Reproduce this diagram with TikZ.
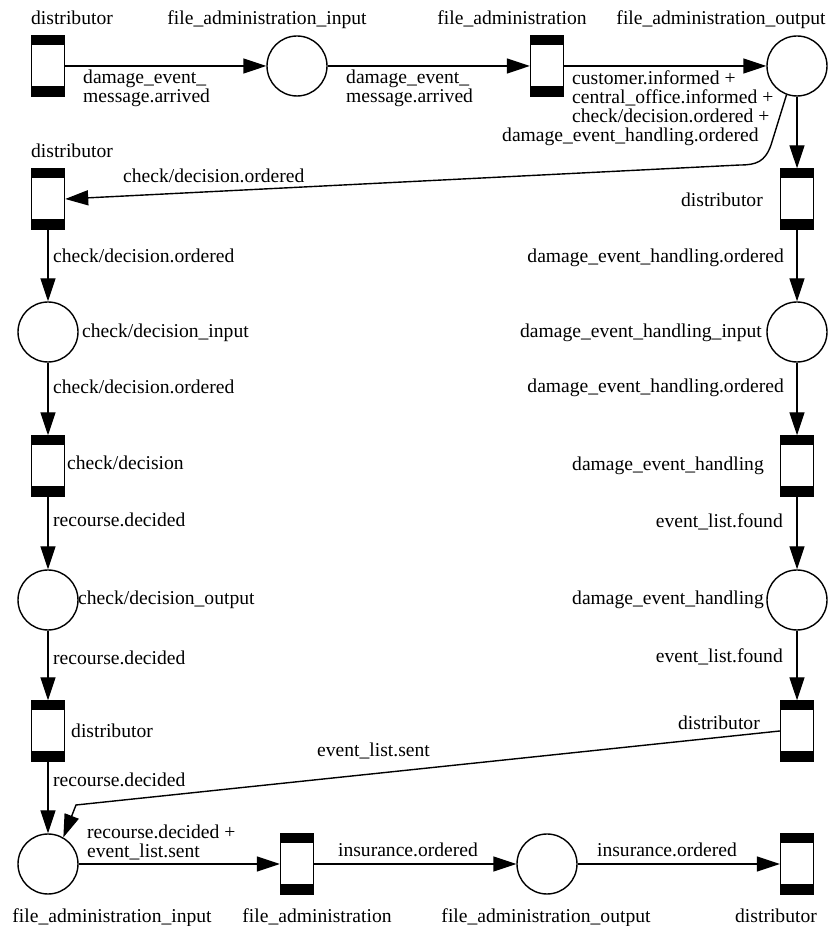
\documentclass[tikz,border=0pt]{standalone}
\usepackage{fontspec}
\setmainfont{Liberation Serif}
\usetikzlibrary{arrows.meta}
\begin{document}
\begin{tikzpicture}[x=1pt,y=1pt,
  every node/.style={font=\fontsize{19.6}{19}\selectfont},
  trans/.style={draw, line width=1.4pt, fill=white, minimum width=33pt, minimum height=60pt, inner sep=0pt,
    path picture={
      \fill[black] (path picture bounding box.north west) rectangle ([yshift=-9.5pt]path picture bounding box.north east);
      \fill[black] (path picture bounding box.south west) rectangle ([yshift=9.5pt]path picture bounding box.south east);}},
  place/.style={circle, draw, line width=1.4pt, minimum size=60pt, inner sep=0pt},
  lbl/.style={inner sep=0pt},
  arr/.style={line width=1.4pt, -{Triangle[length=23pt,width=15pt]}}
]
\useasboundingbox (0,0) rectangle (832,926);

% nodes
\node[trans] (d1) at (48,860) {};
\node[place] (p1) at (297,860) {};
\node[trans] (t1) at (547,860) {};
\node[place] (fao) at (797,860) {};
\node[trans] (dl2) at (48,727) {};
\node[trans] (dr2) at (797,727) {};
\node[place] (pl3) at (48,594) {};
\node[place] (pr3) at (797,594) {};
\node[trans] (tl4) at (48,460) {};
\node[trans] (tr4) at (797,460) {};
\node[place] (pl5) at (48,326) {};
\node[place] (pr5) at (797,326) {};
\node[trans] (tl6) at (48,195) {};
\node[trans] (tr6) at (797,195) {};
\node[place] (fai) at (48,62) {};
\node[trans] (tb2) at (297,62) {};
\node[place] (pb3) at (547,62) {};
\node[trans] (tb4) at (797,62) {};

% node labels
\node[lbl, anchor=base] at (72,901) {distributor};
\node[lbl, anchor=base] at (267,901) {file\_administration\_input};
\node[lbl, anchor=base] at (512,901) {file\_administration};
\node[lbl, anchor=base] at (721,901) {file\_administration\_output};
\node[lbl, anchor=base] at (72,768) {distributor};
\node[lbl, anchor=base east] at (763,719) {distributor};
\node[lbl, anchor=base west] at (82,588) {check/decision\_input};
\node[lbl, anchor=base east] at (762,588) {damage\_event\_handling\_input};
\node[lbl, anchor=base west] at (67,456) {check/decision};
\node[lbl, anchor=base east] at (764,455) {damage\_event\_handling};
\node[lbl, anchor=base west] at (78,321) {check/decision\_output};
\node[lbl, anchor=base east] at (764,321) {damage\_event\_handling};
\node[lbl, anchor=base west] at (71,188) {distributor};
\node[lbl, anchor=base east] at (760,196) {distributor};
\node[lbl, anchor=base] at (112,4) {file\_administration\_input};
\node[lbl, anchor=base] at (317,4) {file\_administration};
\node[lbl, anchor=base] at (546,4) {file\_administration\_output};
\node[lbl, anchor=base] at (776,4) {distributor};

% arcs
\draw[arr] (d1.east) -- (p1.west);
\draw[arr] (p1.east) -- (t1.west);
\draw[arr] (t1.east) -- (fao.west);
\draw[arr] (fao.south) -- (dr2.north);
\draw[arr] (fao.250) -- (771,781) .. controls (765,764) and (756,761) .. (740,761) -- (dl2.east);
\draw[arr] (dl2.south) -- (pl3.north);
\draw[arr] (pl3.south) -- (tl4.north);
\draw[arr] (tl4.south) -- (pl5.north);
\draw[arr] (pl5.south) -- (tl6.north);
\draw[arr] (tl6.south) -- (fai.north);
\draw[arr] (dr2.south) -- (pr3.north);
\draw[arr] (pr3.south) -- (tr4.north);
\draw[arr] (tr4.south) -- (pr5.north);
\draw[arr] (pr5.south) -- (tr6.north);
\draw[arr] (tr6.west) -- (76,121) -- (fai.60);
\draw[arr] (fai.east) -- (tb2.west);
\draw[arr] (tb2.east) -- (pb3.west);
\draw[arr] (pb3.east) -- (tb4.west);

% arc labels
\node[lbl, anchor=north west, align=left] at (83,856.4) {damage\_event\_\\message.arrived};
\node[lbl, anchor=north west, align=left] at (346,856.4) {damage\_event\_\\message.arrived};
\node[lbl, anchor=north west, align=left] at (572,855.4) {customer.informed +\\central\_office.informed +\\check/decision.ordered +\\\hspace*{-70pt}damage\_event\_handling.ordered};
\node[lbl, anchor=base west] at (123,743) {check/decision.ordered};
\node[lbl, anchor=base west] at (53,663) {check/decision.ordered};
\node[lbl, anchor=base east] at (784,663) {damage\_event\_handling.ordered};
\node[lbl, anchor=base west] at (53,532) {check/decision.ordered};
\node[lbl, anchor=base east] at (784,533) {damage\_event\_handling.ordered};
\node[lbl, anchor=base west] at (53,399) {recourse.decided};
\node[lbl, anchor=base east] at (783,398) {event\_list.found};
\node[lbl, anchor=base west] at (53,261) {recourse.decided};
\node[lbl, anchor=base east] at (783,263) {event\_list.found};
\node[lbl, anchor=base west] at (317,169) {event\_list.sent};
\node[lbl, anchor=base west] at (53,139) {recourse.decided};
\node[lbl, anchor=north west, align=left] at (87,101.4) {recourse.decided +\\event\_list.sent};
\node[lbl, anchor=base] at (408,69) {insurance.ordered};
\node[lbl, anchor=base] at (667,69) {insurance.ordered};
\end{tikzpicture}
\end{document}
